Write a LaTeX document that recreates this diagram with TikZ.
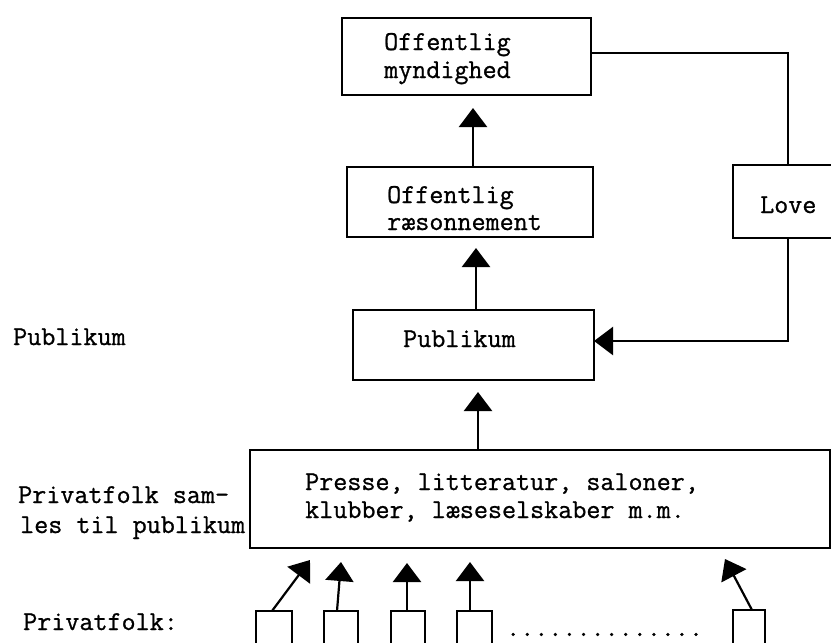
\documentclass[tikz,border=0pt]{standalone}
\usepackage{fontspec}
\newfontfamily\twfont{Latin Modern Mono}[FakeBold=0.9]
\usetikzlibrary{arrows.meta}
\begin{document}
\begin{tikzpicture}[x=1pt,y=-1pt,
  box/.style={draw,line width=2.2pt,inner sep=0pt,outer sep=0pt},
  txt/.style={inner sep=0pt,anchor=base west,font=\fontsize{27.3}{28}\selectfont\twfont},
  line/.style={line width=2.2pt},
  arr/.style={line width=2.2pt,-{Triangle[length=19pt,width=28pt]}}]
\useasboundingbox (0,0) rectangle (831,643);
\clip (0,0) rectangle (831,643);
% boxes
\node[box,minimum width=249pt,minimum height=77pt] (myn) at (466.5,56.5) {};
\node[box,minimum width=246pt,minimum height=70pt] (raes) at (470,202) {};
\node[box,minimum width=241pt,minimum height=70pt] (pub) at (473.5,345) {};
\node[box,minimum width=110pt,minimum height=73pt] (love) at (788,201.5) {};
\node[box,minimum width=580pt,minimum height=98pt] (presse) at (540,499) {};
\node[box,minimum width=36pt,minimum height=44pt] (p1) at (274,633) {};
\node[box,minimum width=34pt,minimum height=44pt] (p2) at (341,633) {};
\node[box,minimum width=34pt,minimum height=44pt] (p3) at (408,633) {};
\node[box,minimum width=35pt,minimum height=44pt] (p4) at (474.5,633) {};
\node[box,minimum width=32pt,minimum height=44pt] (p5) at (749,632) {};
% texts in boxes
\node[txt] (myn1) at (384,50) {Offentlig};
\node[txt] (myn2) at (384,78) {myndighed};
\node[txt] (raes1) at (387,203) {Offentlig};
\node[txt] (raes2) at (387,230) {ræsonnement};
\node[txt] (pub1) at (403,347) {Publikum};
\node[txt] (love1) at (760,213) {Love};
\node[txt] (pr1) at (305,490) {Presse, litteratur, saloner,};
\node[txt] (pr2) at (305,518) {klubber, læseselskaber m.m.};
% left labels
\node[txt] (lpub) at (13,345) {Publikum};
\node[txt] (lsam1) at (18,503) {Privatfolk sam-};
\node[txt] (lsam2) at (20,533) {les til publikum};
\node[txt] (lpriv) at (23,630) {Privatfolk:};
\node[txt] (dots) at (506,636) {..............};
% arrow tips
\coordinate (tmyn) at (473,108);
\coordinate (traes) at (476,248);
\coordinate (tpub) at (478,392);
\coordinate (t1) at (310,560);
\coordinate (t2) at (341,562);
\coordinate (t3) at (407,563);
\coordinate (t4) at (470,562);
\coordinate (t5) at (725,559);
% connectors
\draw[arr] (raes.north -| tmyn) -- (tmyn);
\draw[arr] (pub.north -| traes) -- (traes);
\draw[arr] (presse.north -| tpub) -- (tpub);
\draw[arr] ([xshift=-2pt]p1.north) -- (t1);
\draw[arr] ([xshift=-4pt]p2.north) -- (t2);
\draw[arr] ([xshift=-1pt]p3.north) -- (t3);
\draw[arr] ([xshift=-4.5pt]p4.north) -- (t4);
\draw[arr] ([xshift=3pt]p5.north) -- (t5);
\draw[line] ([yshift=3.5pt]myn.east) -| (love.north);
\draw[arr] (love.south) |- ([yshift=4pt]pub.east);
\end{tikzpicture}
\end{document}
